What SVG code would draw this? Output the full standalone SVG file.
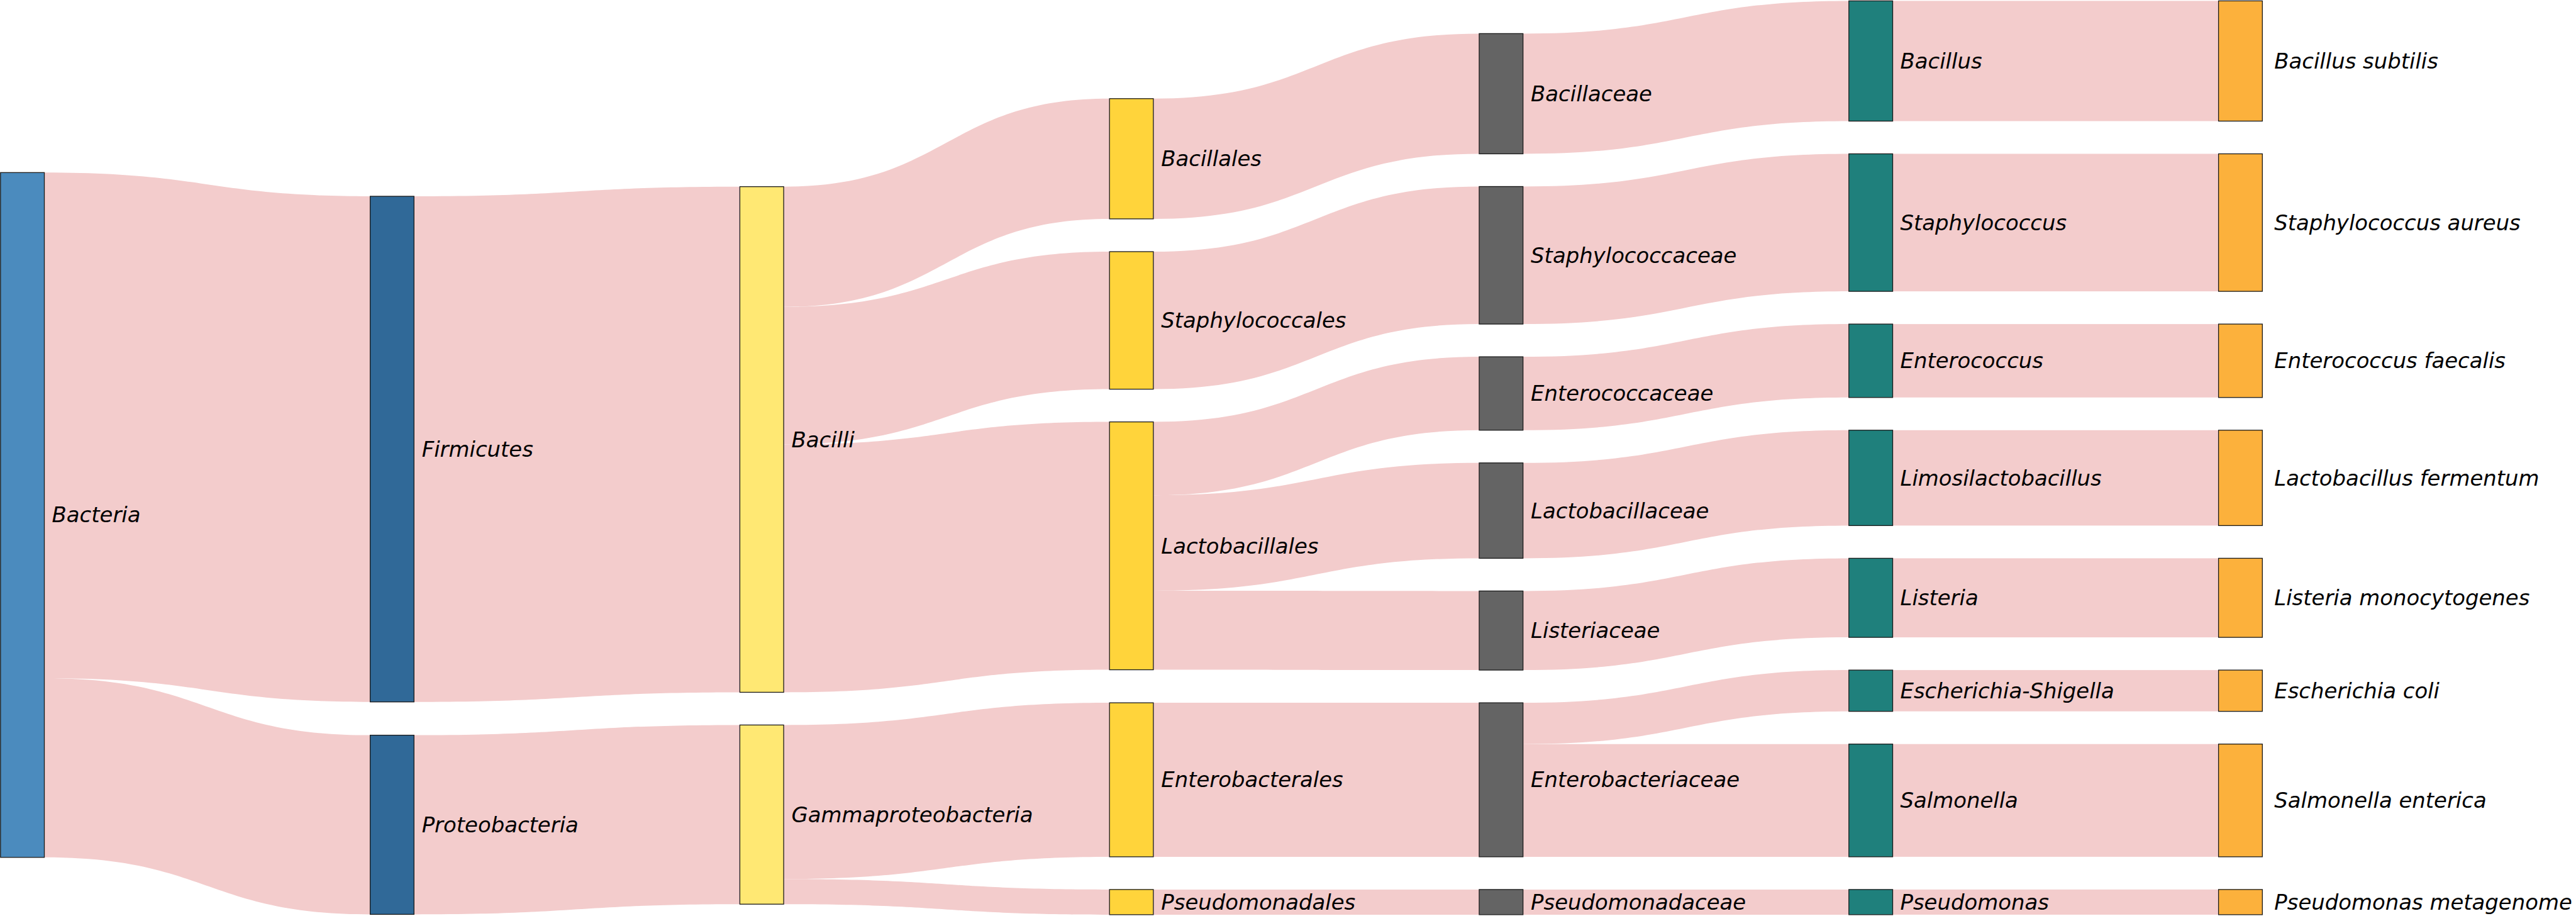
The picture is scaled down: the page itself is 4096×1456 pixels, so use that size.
<svg xmlns="http://www.w3.org/2000/svg" width="4096" height="1456" viewBox="0 0 4096 1456">
<style>
.lk{fill:#f3cccc;stroke:none}
.n rect{stroke:#1a1a1a;stroke-width:1.3}
.n text{font-family:"DejaVu Sans",Verdana,sans-serif;font-style:italic;font-size:33.9px;fill:#000}
.c0{fill:#4b8bbe}.c1{fill:#306998}.c2{fill:#ffe873}.c3{fill:#ffd43b}.c4{fill:#646464}.c5{fill:#1f807c}.c6{fill:#fcb13c}
</style>
<rect width="4096" height="1456" fill="#fff"/>
<g id="links">
<path class="lk" d="M70.5,274.3 C329.55,274.3 329.55,312 588.6,312 L588.6,1115.7 C329.55,1115.7 329.55,1078 70.5,1078 Z"/>
<path class="lk" d="M70.5,1078 C329.55,1078 329.55,1168.6 588.6,1168.6 L588.6,1453.4 C329.55,1453.4 329.55,1362.8 70.5,1362.8 Z"/>
<path class="lk" d="M658.3,312 C917.35,312 917.35,296.7 1176.4,296.7 L1176.4,1100.4 C917.35,1100.4 917.35,1115.7 658.3,1115.7 Z"/>
<path class="lk" d="M658.3,1168.6 C917.35,1168.6 917.35,1152.4 1176.4,1152.4 L1176.4,1437.2 C917.35,1437.2 917.35,1453.4 658.3,1453.4 Z"/>
<path class="lk" d="M1246.1,296.7 C1505.15,296.7 1505.15,156.8 1764.2,156.8 L1764.2,347.9 C1505.15,347.9 1505.15,487.8 1246.1,487.8 Z"/>
<path class="lk" d="M1246.1,487.8 C1505.15,487.8 1505.15,400 1764.2,400 L1764.2,618.6 C1505.15,618.6 1505.15,706.4 1246.1,706.4 Z"/>
<path class="lk" d="M1246.1,706.4 C1505.15,706.4 1505.15,670.6 1764.2,670.6 L1764.2,1064.6 C1505.15,1064.6 1505.15,1100.4 1246.1,1100.4 Z"/>
<path class="lk" d="M1246.1,1152.4 C1505.15,1152.4 1505.15,1117.1 1764.2,1117.1 L1764.2,1361.9 C1505.15,1361.9 1505.15,1397.2 1246.1,1397.2 Z"/>
<path class="lk" d="M1246.1,1397.2 C1505.15,1397.2 1505.15,1413.9 1764.2,1413.9 L1764.2,1453.9 C1505.15,1453.9 1505.15,1437.2 1246.1,1437.2 Z"/>
<path class="lk" d="M1833.9,156.8 C2092.95,156.8 2092.95,53.4 2352,53.4 L2352,244.5 C2092.95,244.5 2092.95,347.9 1833.9,347.9 Z"/>
<path class="lk" d="M1833.9,400 C2092.95,400 2092.95,296.5 2352,296.5 L2352,515.1 C2092.95,515.1 2092.95,618.6 1833.9,618.6 Z"/>
<path class="lk" d="M1833.9,670.6 C2092.95,670.6 2092.95,567.1 2352,567.1 L2352,683.8 C2092.95,683.8 2092.95,787.3 1833.9,787.3 Z"/>
<path class="lk" d="M1833.9,787.3 C2092.95,787.3 2092.95,735.8 2352,735.8 L2352,887.4 C2092.95,887.4 2092.95,938.9 1833.9,938.9 Z"/>
<path class="lk" d="M1833.9,938.9 C2092.95,938.9 2092.95,939.4 2352,939.4 L2352,1065.1 C2092.95,1065.1 2092.95,1064.6 1833.9,1064.6 Z"/>
<path class="lk" d="M1833.9,1117.1 L2352,1117.1 L2352,1361.9 L1833.9,1361.9 Z"/>
<path class="lk" d="M1833.9,1413.9 L2352,1413.9 L2352,1453.9 L1833.9,1453.9 Z"/>
<path class="lk" d="M2421.7,53.4 C2680.75,53.4 2680.75,1.4 2939.8,1.4 L2939.8,192.5 C2680.75,192.5 2680.75,244.5 2421.7,244.5 Z"/>
<path class="lk" d="M2421.7,296.5 C2680.75,296.5 2680.75,244.5 2939.8,244.5 L2939.8,463.1 C2680.75,463.1 2680.75,515.1 2421.7,515.1 Z"/>
<path class="lk" d="M2421.7,567.1 C2680.75,567.1 2680.75,515.1 2939.8,515.1 L2939.8,631.8 C2680.75,631.8 2680.75,683.8 2421.7,683.8 Z"/>
<path class="lk" d="M2421.7,735.8 C2680.75,735.8 2680.75,683.8 2939.8,683.8 L2939.8,835.4 C2680.75,835.4 2680.75,887.4 2421.7,887.4 Z"/>
<path class="lk" d="M2421.7,939.4 C2680.75,939.4 2680.75,887.4 2939.8,887.4 L2939.8,1013.1 C2680.75,1013.1 2680.75,1065.1 2421.7,1065.1 Z"/>
<path class="lk" d="M2421.7,1117.1 C2680.75,1117.1 2680.75,1065.1 2939.8,1065.1 L2939.8,1130.7 C2680.75,1130.7 2680.75,1182.7 2421.7,1182.7 Z"/>
<path class="lk" d="M2421.7,1182.7 L2939.8,1182.7 L2939.8,1361.9 L2421.7,1361.9 Z"/>
<path class="lk" d="M2421.7,1413.9 L2939.8,1413.9 L2939.8,1453.9 L2421.7,1453.9 Z"/>
<rect class="lk" x="3009.5" y="1.4" width="518.1" height="191.1"/>
<rect class="lk" x="3009.5" y="244.5" width="518.1" height="218.6"/>
<rect class="lk" x="3009.5" y="515.1" width="518.1" height="116.7"/>
<rect class="lk" x="3009.5" y="683.8" width="518.1" height="151.6"/>
<rect class="lk" x="3009.5" y="887.4" width="518.1" height="125.7"/>
<rect class="lk" x="3009.5" y="1065.1" width="518.1" height="65.6"/>
<rect class="lk" x="3009.5" y="1182.7" width="518.1" height="179.2"/>
<rect class="lk" x="3009.5" y="1413.9" width="518.1" height="40"/>
</g>
<g id="n-bacteria" class="n"><rect class="c0" x="0.8" y="274.3" width="69.7" height="1088.5"/><text x="82.6" y="830.4">Bacteria</text></g>
<g id="n-firmicutes" class="n"><rect class="c1" x="588.6" y="312" width="69.7" height="803.7"/><text x="670.7" y="725.8">Firmicutes</text></g>
<g id="n-proteobacteria" class="n"><rect class="c1" x="588.6" y="1168.6" width="69.7" height="284.8"/><text x="670.7" y="1322.9">Proteobacteria</text></g>
<g id="n-bacilli" class="n"><rect class="c2" x="1176.4" y="296.7" width="69.7" height="803.7"/><text x="1258.5" y="710.5">Bacilli</text></g>
<g id="n-gammaproteobacteria" class="n"><rect class="c2" x="1176.4" y="1152.4" width="69.7" height="284.8"/><text x="1258.5" y="1306.7">Gammaproteobacteria</text></g>
<g id="n-bacillales" class="n"><rect class="c3" x="1764.2" y="156.8" width="69.7" height="191.1"/><text x="1846.3" y="264.3">Bacillales</text></g>
<g id="n-staphylococcales" class="n"><rect class="c3" x="1764.2" y="400" width="69.7" height="218.6"/><text x="1846.3" y="521.2">Staphylococcales</text></g>
<g id="n-lactobacillales" class="n"><rect class="c3" x="1764.2" y="670.6" width="69.7" height="394"/><text x="1846.3" y="879.5">Lactobacillales</text></g>
<g id="n-enterobacterales" class="n"><rect class="c3" x="1764.2" y="1117.1" width="69.7" height="244.8"/><text x="1846.3" y="1251.4">Enterobacterales</text></g>
<g id="n-pseudomonadales" class="n"><rect class="c3" x="1764.2" y="1413.9" width="69.7" height="40"/><text x="1846.3" y="1445.8">Pseudomonadales</text></g>
<g id="n-bacillaceae" class="n"><rect class="c4" x="2352" y="53.4" width="69.7" height="191.1"/><text x="2434.1" y="160.9">Bacillaceae</text></g>
<g id="n-staphylococcaceae" class="n"><rect class="c4" x="2352" y="296.5" width="69.7" height="218.6"/><text x="2434.1" y="417.7">Staphylococcaceae</text></g>
<g id="n-enterococcaceae" class="n"><rect class="c4" x="2352" y="567.1" width="69.7" height="116.7"/><text x="2434.1" y="637.4">Enterococcaceae</text></g>
<g id="n-lactobacillaceae" class="n"><rect class="c4" x="2352" y="735.8" width="69.7" height="151.6"/><text x="2434.1" y="823.5">Lactobacillaceae</text></g>
<g id="n-listeriaceae" class="n"><rect class="c4" x="2352" y="939.4" width="69.7" height="125.7"/><text x="2434.1" y="1014.2">Listeriaceae</text></g>
<g id="n-enterobacteriaceae" class="n"><rect class="c4" x="2352" y="1117.1" width="69.7" height="244.8"/><text x="2434.1" y="1251.4">Enterobacteriaceae</text></g>
<g id="n-pseudomonadaceae" class="n"><rect class="c4" x="2352" y="1413.9" width="69.7" height="40"/><text x="2434.1" y="1445.8">Pseudomonadaceae</text></g>
<g id="n-bacillus" class="n"><rect class="c5" x="2939.8" y="1.4" width="69.7" height="191.1"/><text x="3021.5" y="108.9">Bacillus</text></g>
<g id="n-staphylococcus" class="n"><rect class="c5" x="2939.8" y="244.5" width="69.7" height="218.6"/><text x="3021.5" y="365.7">Staphylococcus</text></g>
<g id="n-enterococcus" class="n"><rect class="c5" x="2939.8" y="515.1" width="69.7" height="116.7"/><text x="3021.5" y="585.4">Enterococcus</text></g>
<g id="n-limosilactobacillus" class="n"><rect class="c5" x="2939.8" y="683.8" width="69.7" height="151.6"/><text x="3021.5" y="771.5">Limosilactobacillus</text></g>
<g id="n-listeria" class="n"><rect class="c5" x="2939.8" y="887.4" width="69.7" height="125.7"/><text x="3021.5" y="962.2">Listeria</text></g>
<g id="n-escherichia-shigella" class="n"><rect class="c5" x="2939.8" y="1065.1" width="69.7" height="65.6"/><text x="3021.5" y="1109.8">Escherichia-Shigella</text></g>
<g id="n-salmonella" class="n"><rect class="c5" x="2939.8" y="1182.7" width="69.7" height="179.2"/><text x="3021.5" y="1284.2">Salmonella</text></g>
<g id="n-pseudomonas" class="n"><rect class="c5" x="2939.8" y="1413.9" width="69.7" height="40"/><text x="3021.5" y="1445.8">Pseudomonas</text></g>
<g id="n-bacillus-subtilis" class="n"><rect class="c6" x="3527.6" y="1.4" width="69.7" height="191.1"/><text x="3616.3" y="108.9">Bacillus subtilis</text></g>
<g id="n-staphylococcus-aureus" class="n"><rect class="c6" x="3527.6" y="244.5" width="69.7" height="218.6"/><text x="3616.3" y="365.7">Staphylococcus aureus</text></g>
<g id="n-enterococcus-faecalis" class="n"><rect class="c6" x="3527.6" y="515.1" width="69.7" height="116.7"/><text x="3616.3" y="585.4">Enterococcus faecalis</text></g>
<g id="n-lactobacillus-fermentum" class="n"><rect class="c6" x="3527.6" y="683.8" width="69.7" height="151.6"/><text x="3616.3" y="771.5">Lactobacillus fermentum</text></g>
<g id="n-listeria-monocytogenes" class="n"><rect class="c6" x="3527.6" y="887.4" width="69.7" height="125.7"/><text x="3616.3" y="962.2">Listeria monocytogenes</text></g>
<g id="n-escherichia-coli" class="n"><rect class="c6" x="3527.6" y="1065.1" width="69.7" height="65.6"/><text x="3616.3" y="1109.8">Escherichia coli</text></g>
<g id="n-salmonella-enterica" class="n"><rect class="c6" x="3527.6" y="1182.7" width="69.7" height="179.2"/><text x="3616.3" y="1284.2">Salmonella enterica</text></g>
<g id="n-pseudomonas-metagenome" class="n"><rect class="c6" x="3527.6" y="1413.9" width="69.7" height="40"/><text x="3616.3" y="1445.8">Pseudomonas metagenome</text></g>
</svg>
